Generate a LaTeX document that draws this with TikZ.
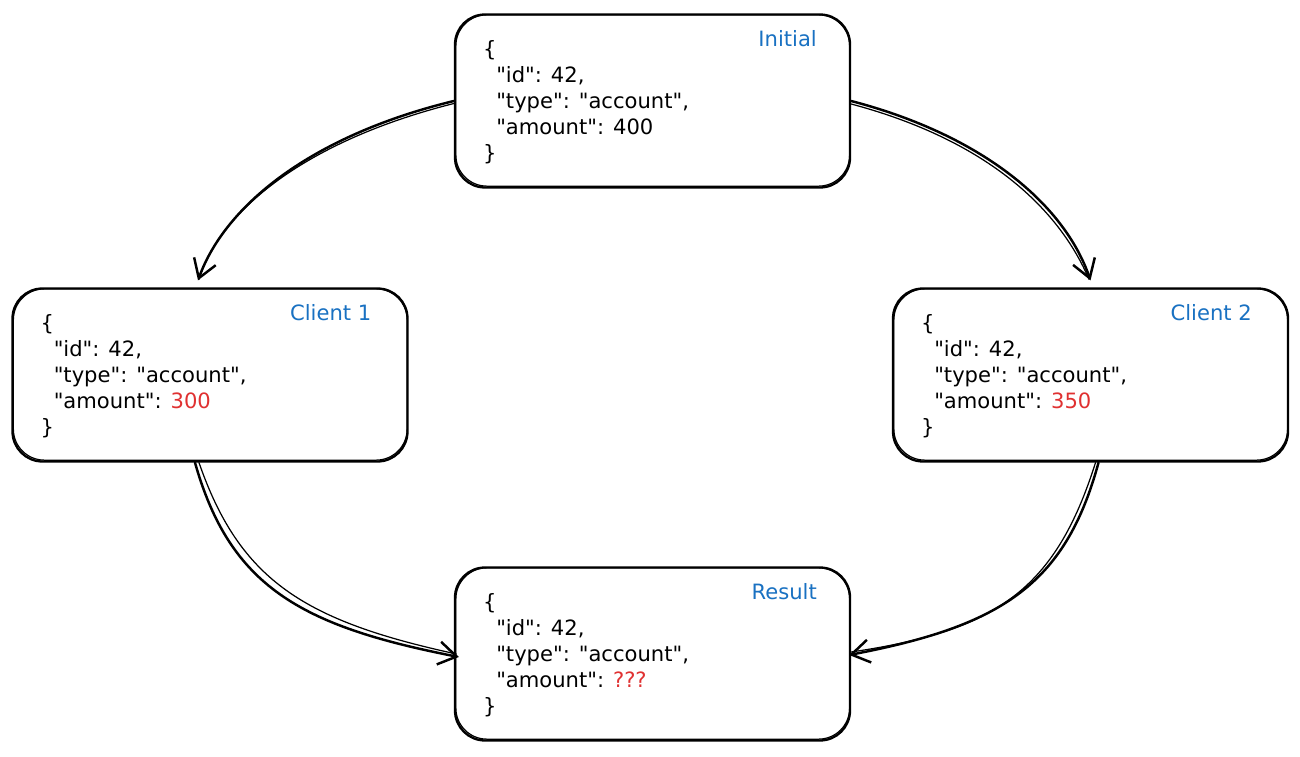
\documentclass[tikz,border=0pt]{standalone}
\usepackage{fontspec}
\setmainfont{DejaVu Sans}[Ligatures=TeXOff]
\usetikzlibrary{arrows.meta,positioning}

\definecolor{tagblue}{HTML}{1971C2}
\definecolor{valred}{HTML}{E03131}

\newcommand{\accountjson}[1]{\{\\
\hspace*{0.62em}"id": 42,\\
\hspace*{0.62em}"type": "account",\\
\hspace*{0.62em}"amount": #1\\
\}}

\tikzset{
  jsonbox/.style={draw, line width=1.3pt, rounded corners=0.6cm,
    minimum width=7.9cm, minimum height=3.46cm, fill=white},
  sketch/.style={line width=0.7pt, rounded corners=0.62cm},
  jsontext/.style={inner sep=0pt, align=left, anchor=north west,
    font=\fontsize{12}{14.8}\selectfont},
  tag/.style={inner sep=0pt, anchor=north east, text=tagblue,
    font=\fontsize{12}{14.8}\selectfont},
  flow/.style={line width=1.4pt, line cap=round,
    -{Straight Barb[length=3.6mm,width=4.6mm,line width=1.4pt]}},
  flowtwin/.style={line width=0.7pt, line cap=round}
}

\begin{document}
\begin{tikzpicture}
  \useasboundingbox (0,0) rectangle (26,15.12);

  % the four states
  \node[jsonbox] (init) at (13.05,13.10) {};
  \node[jsonbox] (client1) at (4.20,7.62) {};
  \node[jsonbox] (client2) at (21.81,7.62) {};
  \node[jsonbox] (result) at (13.05,2.04) {};

  % second pencil stroke round each box
  \foreach \b in {init,client1,client2,result}
    \draw[sketch] ([shift={(0.04,-0.03)}]\b.north west) rectangle ([shift={(-0.03,0.05)}]\b.south east);

  % json bodies
  \node[jsontext] (initText) at ([shift={(0.58,-0.54)}]init.north west) {\accountjson{400}};
  \node[jsontext] (client1Text) at ([shift={(0.58,-0.54)}]client1.north west) {\accountjson{\textcolor{valred}{300}}};
  \node[jsontext] (client2Text) at ([shift={(0.58,-0.54)}]client2.north west) {\accountjson{\textcolor{valred}{350}}};
  \node[jsontext] (resultText) at ([shift={(0.58,-0.54)}]result.north west) {\accountjson{\textcolor{valred}{???}}};

  % titles, top right
  \node[tag] (initTag) at ([shift={(-0.68,-0.34)}]init.north east) {Initial};
  \node[tag] (client1Tag) at ([shift={(-0.74,-0.34)}]client1.north east) {Client 1};
  \node[tag] (client2Tag) at ([shift={(-0.74,-0.34)}]client2.north east) {Client 2};
  \node[tag] (resultTag) at ([shift={(-0.68,-0.34)}]result.north east) {Result};

  % initial -> clients
  \draw[flow] (init.west) .. controls (6.2,12.4) and (4.5,11.0) .. ([xshift=-0.24cm,yshift=0.14cm]client1.north);
  \draw[flowtwin] ([yshift=-0.05cm]init.west) .. controls (6.1,12.3) and (4.4,10.9) .. ([xshift=-0.22cm,yshift=0.16cm]client1.north);
  \draw[flow] (init.east) .. controls (19.7,12.4) and (21.3,11.0) .. ([yshift=0.14cm]client2.north);
  \draw[flowtwin] ([yshift=-0.06cm]init.east) .. controls (19.8,12.3) and (21.2,10.9) .. ([xshift=-0.03cm,yshift=0.16cm]client2.north);

  % clients -> result
  \draw[flow] ([xshift=-0.3cm]client1.south) .. controls (4.6,3.4) and (6.0,2.6) .. ([xshift=0.1cm,yshift=-0.06cm]result.west);
  \draw[flowtwin] ([xshift=-0.22cm]client1.south) .. controls (4.8,3.5) and (6.1,2.7) .. ([xshift=0.05cm]result.west);
  \draw[flow] ([xshift=0.16cm]client2.south) .. controls (21.3,3.4) and (20.0,2.6) .. ([xshift=-0.04cm,yshift=-0.02cm]result.east);
  \draw[flowtwin] ([xshift=0.1cm]client2.south) .. controls (21.1,3.3) and (19.9,2.5) .. ([yshift=0.04cm]result.east);
\end{tikzpicture}
\end{document}
